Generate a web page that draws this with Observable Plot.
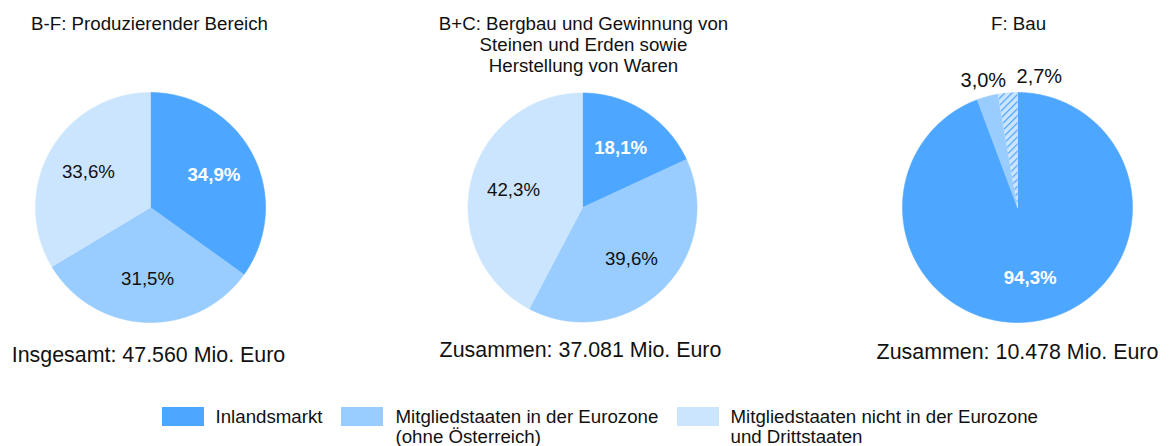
<!DOCTYPE html>
<html>
<head>
<meta charset="utf-8">
<script src="https://cdn.jsdelivr.net/npm/d3@7"></script>
<script src="https://cdn.jsdelivr.net/npm/@observablehq/plot@0.6"></script>
<style>
  html, body { margin: 0; padding: 0; background: #fff; }
  #chart svg { display: block; font-family: "Liberation Sans", Arial, sans-serif; }
</style>
</head>
<body>
<div id="chart"></div>
<script>
// ---------------- data ----------------
const categories = [
  "Inlandsmarkt",
  "Mitgliedstaaten in der Eurozone (ohne Österreich)",
  "Mitgliedstaaten nicht in der Eurozone und Drittstaaten"
];
const legendLabels = [
  "Inlandsmarkt",
  "Mitgliedstaaten in der Eurozone\n(ohne Österreich)",
  "Mitgliedstaaten nicht in der Eurozone\nund Drittstaaten"
];
const pieKeys = ["B-F", "B+C", "F"];
const pieTitles = [
  "B-F: Produzierender Bereich",
  "B+C: Bergbau und Gewinnung von\nSteinen und Erden sowie\nHerstellung von Waren",
  "F: Bau"
];
const inlandsmarkt = [34.9, 18.1, 94.3];
const eurozone = [31.5, 39.6, 3.0];
const nichtEurozone = [33.6, 42.3, 2.7];
const totals = [
  "Insgesamt: 47.560 Mio. Euro",
  "Zusammen: 37.081 Mio. Euro",
  "Zusammen: 10.478 Mio. Euro"
];
const hatchedSlices = [{pie: "F", category: categories[2]}];

// ---------------- layout / style ----------------
const W = 1169, H = 446;
const colors = ["#4da6ff", "#99ccff", "#cce5ff"];
const pieCx = [150, 582, 1017];
const pieCy = 207;
const pieR = [115, 114.5, 115];
const titleX = [149, 583, 1018];
const titleTop = 28.3;          // first baseline
const totalX = [148, 580, 1017];
const totalBaseline = [361.7, 356.7, 358.3];
const legendSwatchX = [162, 341, 677];
const legendTextX = [215, 395, 730];
const legendSwatchY = [407, 426];
const legendSwatchW = 42;
const legendBaseline = 421.8;
const fsTitle = 18.7, fsLabel = 18.7, fsOuter = 20, fsTotal = 21.4, fsLegend = 18.7;
const smallSlice = 5; // percent; labels outside

const fmt = v => d3.format(".1f")(v).replace(".", ",") + "%";
const rad = a => a * Math.PI / 180;

// ---------------- build tables ----------------
const series = [inlandsmarkt, eurozone, nichtEurozone];
const slicePoints = [];
const labels = [];
pieKeys.forEach((pk, i) => {
  const cx = pieCx[i], cy = pieCy, r = pieR[i];
  const vals = series.map(s => s[i]);
  const total = d3.sum(vals);
  let start = 0;
  const outer = [];
  vals.forEach((v, j) => {
    const a0 = start / total * 360, a1 = (start + v) / total * 360;
    start += v;
    const id = pk + "|" + j;
    const hatch = hatchedSlices.some(h => h.pie === pk && h.category === categories[j]);
    const pts = [{x: cx, y: cy}];
    const n = Math.max(2, Math.ceil((a1 - a0) / 0.5));
    for (let k = 0; k <= n; k++) {
      const a = rad(a0 + (a1 - a0) * k / n);
      pts.push({x: cx + r * Math.sin(a), y: cy - r * Math.cos(a)});
    }
    pts.push({x: cx, y: cy});
    pts.forEach(p => slicePoints.push({...p, id, category: categories[j], hatch}));
    const am = rad((a0 + a1) / 2);
    const isOuter = v < smallSlice;
    const f = isOuter ? 1.14 : 0.62;
    const lab = {
      x: cx + f * r * Math.sin(am),
      y: cy - f * r * Math.cos(am),
      text: fmt(v),
      outer: isOuter,
      white: j === 0 && !isOuter,
      bold: j === 0 && !isOuter
    };
    if (isOuter) outer.push(lab);
    labels.push(lab);
  });
  // simple collision avoidance for outside labels
  for (let k = 1; k < outer.length; k++) {
    const p = outer[k - 1], q = outer[k];
    if (Math.abs(q.x - p.x) < 56 && Math.abs(q.y - p.y) < 22) q.x = p.x + 56;
  }
});

const pies = pieKeys.map((pk, i) => ({
  key: pk, title: pieTitles[i], total: totals[i],
  tx: titleX[i], ty: titleTop - 0.71 * fsTitle,
  sx: totalX[i], sy: totalBaseline[i] - 0.71 * fsTotal
}));
const legend = categories.map((c, j) => ({
  category: c, label: legendLabels[j],
  x1: legendSwatchX[j], x2: legendSwatchX[j] + legendSwatchW,
  y1: legendSwatchY[0], y2: legendSwatchY[1],
  tx: legendTextX[j], ty: legendBaseline - 0.71 * fsLegend
}));

// hatch pattern definition
const defs = () => {
  const g = d3.create("svg:g");
  const p = g.append("defs").append("pattern")
    .attr("id", "hatch-f")
    .attr("patternUnits", "userSpaceOnUse")
    .attr("width", 5).attr("height", 5)
    .attr("patternTransform", "rotate(45)");
  p.append("rect").attr("width", 5).attr("height", 5).attr("fill", colors[2]);
  p.append("line").attr("x1", 0.6).attr("y1", 0).attr("x2", 0.6).attr("y2", 5)
    .attr("stroke", colors[0]).attr("stroke-width", 1.2);
  return g.node();
};

const chart = Plot.plot({
  width: W, height: H,
  margin: 0,
  x: {domain: [0, W], range: [0, W], axis: null},
  y: {domain: [0, H], range: [0, H], axis: null},
  color: {domain: categories, range: colors},
  style: {fontFamily: '"Liberation Sans", Arial, sans-serif', color: "#111"},
  marks: [
    defs,
    Plot.line(slicePoints, {x: "x", y: "y", z: "id", fill: "category", stroke: "category", strokeWidth: 0.6, curve: "linear"}),
    Plot.line(slicePoints.filter(d => d.hatch), {x: "x", y: "y", z: "id", fill: "url(#hatch-f)", stroke: "none"}),
    // inner labels
    Plot.text(labels.filter(d => !d.outer && !d.bold), {x: "x", y: "y", text: "text", fontSize: fsLabel, fill: "#111"}),
    Plot.text(labels.filter(d => d.bold), {x: "x", y: "y", text: "text", fontSize: fsLabel, fontWeight: "bold", fill: "white"}),
    Plot.text(labels.filter(d => d.outer), {x: "x", y: "y", text: "text", fontSize: fsOuter, fill: "#111"}),
    // titles
    Plot.text(pies, {x: "tx", y: "ty", text: "title", fontSize: fsTitle, lineAnchor: "top", lineHeight: 1.12, fill: "#111"}),
    // totals
    Plot.text(pies, {x: "sx", y: "sy", text: "total", fontSize: fsTotal, lineAnchor: "top", fill: "#111"}),
    // legend
    Plot.rect(legend, {x1: "x1", x2: "x2", y1: "y1", y2: "y2", fill: "category"}),
    Plot.text(legend, {x: "tx", y: "ty", text: "label", fontSize: fsLegend, lineAnchor: "top", lineHeight: 1.05, textAnchor: "start", fill: "#111"})
  ]
});
document.getElementById("chart").appendChild(chart);
</script>
</body>
</html>
